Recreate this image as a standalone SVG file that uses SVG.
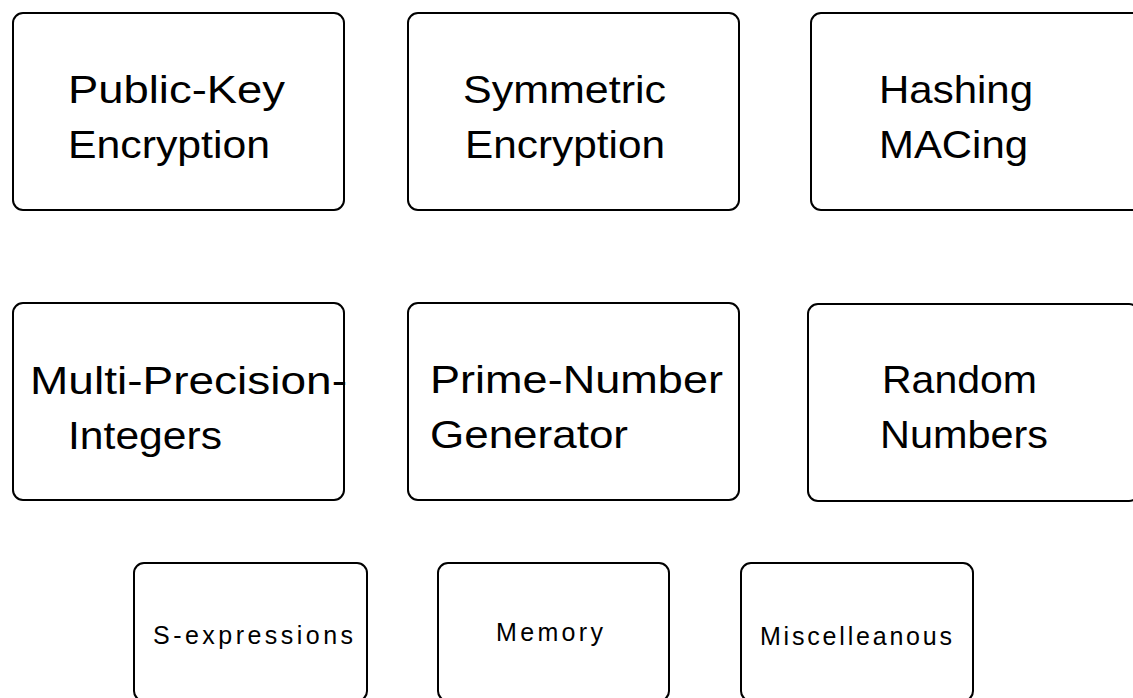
<svg xmlns="http://www.w3.org/2000/svg" width="1133" height="698" viewBox="0 0 1133 698">
<style>
.box{fill:#fff;stroke:#000;stroke-width:2}
.big{font-family:"Liberation Sans",Arial,sans-serif;font-size:39px;fill:#000}
.small{font-family:"Liberation Sans",Arial,sans-serif;font-size:25px;fill:#000}
</style>
<rect width="1133" height="698" fill="#fff"/>
<g id="connectors"/>
<g id="pubkey">
<rect class="box" x="13" y="13" width="331" height="197" rx="10"/>
<text class="big" x="68" y="103" textLength="217" lengthAdjust="spacingAndGlyphs">Public-Key</text>
<text class="big" x="68" y="158" textLength="202" lengthAdjust="spacingAndGlyphs">Encryption</text>
</g>
<g id="symmetric">
<rect class="box" x="408" y="13" width="331" height="197" rx="10"/>
<text class="big" x="463" y="103" textLength="203" lengthAdjust="spacingAndGlyphs">Symmetric</text>
<text class="big" x="465" y="158" textLength="200" lengthAdjust="spacingAndGlyphs">Encryption</text>
</g>
<g id="hashing">
<rect class="box" x="811" y="13" width="331" height="197" rx="10"/>
<text class="big" x="879" y="103" textLength="154" lengthAdjust="spacingAndGlyphs">Hashing</text>
<text class="big" x="879" y="158" textLength="149" lengthAdjust="spacingAndGlyphs">MACing</text>
</g>
<g id="mpi">
<rect class="box" x="13" y="303" width="331" height="197" rx="10"/>
<text class="big" x="30" y="394" textLength="317" lengthAdjust="spacingAndGlyphs">Multi-Precision-</text>
<text class="big" x="68" y="449" textLength="154" lengthAdjust="spacingAndGlyphs">Integers</text>
</g>
<g id="prime">
<rect class="box" x="408" y="303" width="331" height="197" rx="10"/>
<text class="big" x="430" y="393" textLength="293" lengthAdjust="spacingAndGlyphs">Prime-Number</text>
<text class="big" x="430" y="448" textLength="198" lengthAdjust="spacingAndGlyphs">Generator</text>
</g>
<g id="random">
<rect class="box" x="808" y="304" width="331" height="197" rx="10"/>
<text class="big" x="882" y="393" textLength="155" lengthAdjust="spacingAndGlyphs">Random</text>
<text class="big" x="880" y="448" textLength="168" lengthAdjust="spacingAndGlyphs">Numbers</text>
</g>
<g id="sexp">
<rect class="box" x="134" y="563" width="233" height="138" rx="10"/>
<text class="small" x="153" y="644" textLength="200" lengthAdjust="spacing">S-expressions</text>
</g>
<g id="memory">
<rect class="box" x="438" y="563" width="231" height="138" rx="10"/>
<text class="small" x="496" y="641" textLength="107" lengthAdjust="spacing">Memory</text>
</g>
<g id="misc">
<rect class="box" x="741" y="563" width="232" height="138" rx="10"/>
<text class="small" x="760" y="645" textLength="192" lengthAdjust="spacing">Miscelleanous</text>
</g>
</svg>
